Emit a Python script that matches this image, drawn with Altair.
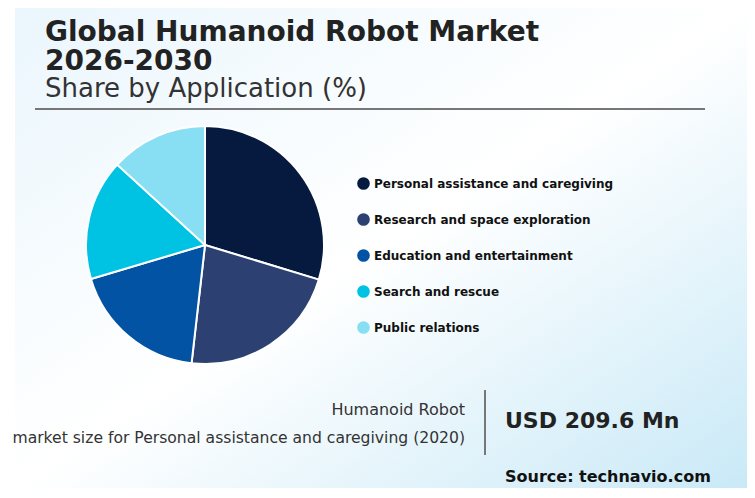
import altair as alt
import pandas as pd

categories = [
    "Personal assistance and caregiving",
    "Research and space exploration",
    "Education and entertainment",
    "Search and rescue",
    "Public relations",
]
shares = [29.7, 22.1, 18.6, 16.4, 13.2]
colors = ["#061A40", "#2C4172", "#0353A4", "#00C3E3", "#88DEF2"]

title_lines = ["Global Humanoid Robot Market", "2026-2030"]
subtitle = "Share by Application (%)"
note_line1 = "Humanoid Robot"
note_line2 = "market size for Personal assistance and caregiving (2020)"
highlight = "USD 209.6 Mn"
source = "Source: technavio.com"

FONT = "DejaVu Sans"
W, H = 739, 480

df = pd.DataFrame({"Application": categories, "Share": shares, "idx": list(range(len(categories)))})
one = pd.DataFrame({"k": [0]})

bg = alt.Chart(one).mark_rect(
    fill=alt.LinearGradient(
        gradient="linear",
        x1=0, y1=0, x2=1, y2=1,
        stops=[
            alt.GradientStop(color="#eaf6fd", offset=0),
            alt.GradientStop(color="#ffffff", offset=0.5),
            alt.GradientStop(color="#c9e9f7", offset=1),
        ],
    )
).encode(x=alt.value(7), x2=alt.value(W), y=alt.value(0), y2=alt.value(H))

pie = alt.Chart(df).mark_arc(radius=119, stroke="white", strokeWidth=2).encode(
    theta=alt.Theta("Share:Q", stack=True),
    order=alt.Order("idx:Q"),
    color=alt.Color(
        "Application:N",
        scale=alt.Scale(domain=categories, range=colors),
        sort=categories,
        legend=alt.Legend(
            title=None,
            orient="none",
            legendX=349,
            legendY=169,
            direction="vertical",
            symbolType="circle",
            symbolSize=160,
            symbolStrokeWidth=0,
            labelFont=FONT,
            labelFontSize=12,
            labelFontWeight="bold",
            labelColor="#111111",
            labelOffset=4,
            rowPadding=23,
            labelLimit=400,
        ),
    ),
    x=alt.value(197),
    y=alt.value(237),
)


def txt(text, x, y, size, weight="normal", color="#222222", align="left", **kw):
    return alt.Chart(one).mark_text(
        text=text, font=FONT, fontSize=size, fontWeight=weight, color=color,
        align=align, baseline="alphabetic", **kw,
    ).encode(x=alt.value(x), y=alt.value(y))


t1 = txt(title_lines, 37, 33, 28, "bold", "#222222", lineHeight=29)
t3 = txt(subtitle, 37, 89, 26, "normal", "#333333")
hrule = alt.Chart(one).mark_rule(color="#777777", strokeWidth=2).encode(
    x=alt.value(27), x2=alt.value(697), y=alt.value(101)
)
n1 = txt(note_line1, 457, 407, 16, "normal", "#333333", "right")
n2 = txt(note_line2, 457, 435, 15.6, "normal", "#333333", "right")
vrule = alt.Chart(one).mark_rule(color="#777777", strokeWidth=2).encode(
    x=alt.value(477), y=alt.value(382), y2=alt.value(447)
)
hl = txt(highlight, 497, 420, 22, "bold", "#222222")
src = txt(source, 497, 474, 16, "bold", "#111111")

chart = alt.layer(bg, pie, t1, t3, hrule, n1, n2, vrule, hl, src).properties(
    width=W, height=H, padding=0, autosize=alt.AutoSizeParams(type="none"),
    background="white",
).configure_view(stroke=None)

chart.save("out.html", embed_options={"renderer": "svg", "actions": False})
